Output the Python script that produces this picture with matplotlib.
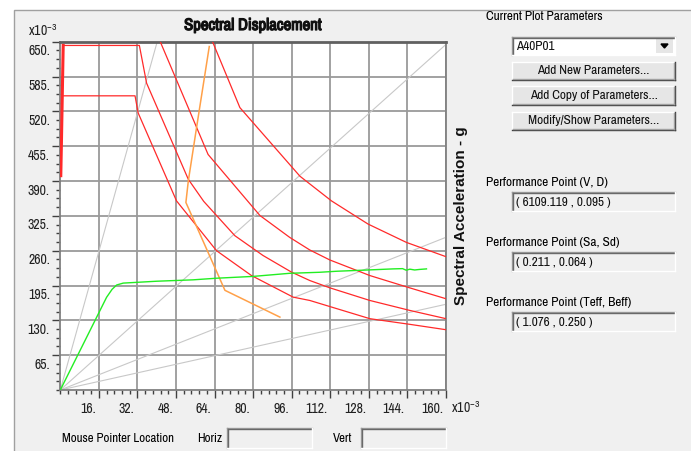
import matplotlib
matplotlib.use("Agg")
import matplotlib.pyplot as plt
from matplotlib import patheffects
from matplotlib.patches import Rectangle, Polygon
from matplotlib.lines import Line2D
from matplotlib.transforms import ScaledTranslation
from matplotlib.ticker import MultipleLocator

W, H = 691, 451

plt.rcParams['font.family'] = ['Archivo Narrow', 'Liberation Sans', 'DejaVu Sans']
plt.rcParams['mathtext.default'] = 'regular'

# ---- data (Sd and Sa both x10^-3) ----
# capacity curve
cap_sd = [0, 8, 19.2, 21.5, 23.4, 26.1, 40, 55.1, 64.8, 80, 95.2, 107.6, 114.6,
          125, 138, 142, 143.5, 145, 147, 149, 151.9]
cap_sa = [0, 72, 173, 188, 196, 199.5, 203, 205.6, 208.6, 212, 217.8, 219.7, 221.6,
          223.5, 226, 226.5, 223.5, 225.5, 224, 225, 226]

# demand spectra
dem_a_sd = [0.2, 0.5, 0.9, 1.2, 32.8, 35.8, 53.1, 59.5, 72.4, 84.1, 95.9, 103.5,
            111.8, 128.4, 144.9, 160]
dem_a_sa = [400, 470, 570, 643, 643, 572.6, 393.2, 352, 288, 251, 220, 204.3,
            190.7, 167.1, 148.6, 133.1]

dem_b_sd = [0.3, 0.8, 31.0, 32.3, 48.2, 64.8, 79.3, 96.6, 103.5, 128.4, 144.9, 160]
dem_b_sa = [400, 549, 549, 517, 353, 260, 213.6, 173.3, 167.1, 133.1, 122.6, 112.5]

dem_c_sd = [40.9, 61.3, 82.8, 95.2, 103.5, 111.8, 128.4, 144.9, 160]
dem_c_sa = [656, 439.6, 325.7, 284.7, 261.3, 242.7, 213.6, 190.7, 170.3]

dem_d_sd = [62.6, 74.5, 99.4, 112.5, 127.7, 143.6, 160]
dem_d_sa = [656, 527, 399, 352.9, 309.6, 275.4, 248.8]

# single demand (orange)
sdem_sd = [61.8, 56.6, 53.1, 52.1, 68.3, 91.1]
sdem_sa = [641, 492, 390, 350, 186, 136]

# constant period lines, end points (start at origin)
per_sd = [40.2, 160, 160, 160]
per_sa = [650, 645, 285, 160]

x_ticks = [16, 32, 48, 64, 80, 96, 112, 128, 144, 160]
y_ticks = [65, 130, 195, 260, 325, 390, 455, 520, 585, 650]

fig = plt.figure(figsize=(W / 100, H / 100), dpi=100)
fig.patch.set_facecolor('white')


def fx(x):
    return x / W


def fy(y):
    return 1 - y / H


def rect(x0, y0, x1, y1, face, edge='none', lw=1.0, z=1):
    fig.add_artist(Rectangle((fx(x0), fy(y1)), (x1 - x0) / W, (y1 - y0) / H,
                             transform=fig.transFigure, facecolor=face,
                             edgecolor=edge, lw=lw, zorder=z))


def seg(xs, ys, color, lw=1.0):
    fig.add_artist(Line2D([fx(x) for x in xs], [fy(y) for y in ys],
                          transform=fig.transFigure, color=color, lw=lw))


def button(x0, y0, x1, y1, text):
    rect(x0, y0, x1, y1, '#e6e6e6')
    seg([x0, x1], [y0, y0], 'white')
    seg([x0, x0], [y0, y1], 'white')
    seg([x0, x1], [y1, y1], '#404040')
    seg([x1, x1], [y0, y1], '#404040')
    seg([x0 + 1, x1 - 1], [y1 - 1, y1 - 1], '#a0a0a0')
    seg([x1 - 1, x1 - 1], [y0 + 1, y1 - 1], '#a0a0a0')
    fig.text(fx((x0 + x1) / 2), fy((y0 + y1) / 2), text, ha='center', va='center',
             fontsize=9.5, color='#101010')


def field(x0, y0, x1, y1, text=None, face='#f0f0f0'):
    rect(x0, y0, x1, y1, face)
    seg([x0, x1], [y0, y0], '#a0a0a0')
    seg([x0, x0], [y0, y1], '#a0a0a0')
    seg([x0 + 1, x1 - 1], [y0 + 1, y0 + 1], '#696969')
    seg([x0 + 1, x0 + 1], [y0 + 1, y1 - 1], '#696969')
    seg([x0, x1], [y1, y1], 'white')
    seg([x1, x1], [y0, y1], 'white')
    if text:
        fig.text(fx(x0 + 4), fy((y0 + y1) / 2 + 1), text, ha='left', va='center',
                 fontsize=9.5, color='#101010')


# dialog panel
rect(14, 10, 700, 470, '#f0f0f0', edge='#a0a0a0', lw=1.0, z=-10)

ax = fig.add_axes([60.3 / W, 1 - 390 / H, (446 - 60.3) / W, (390 - 41.7) / H])
ax.set_facecolor('white')
ax.set_xlim(0, 160)
ax.set_ylim(0, 650)

for xe, ye in zip(per_sd, per_sa):
    ax.plot([0, xe], [0, ye], color='#c8c8c8', lw=0.8, zorder=2)

for sd, sa in [(dem_a_sd, dem_a_sa), (dem_b_sd, dem_b_sa),
               (dem_c_sd, dem_c_sa), (dem_d_sd, dem_d_sa)]:
    ax.plot(sd, sa, color='#ff2a2a', lw=0.9, zorder=3)
ax.plot(dem_a_sd[:4], dem_a_sa[:4], color='#ff2a2a', lw=2.2, zorder=3)
ax.plot(sdem_sd, sdem_sa, color='#ffa048', lw=1.1, zorder=4)
ax.plot(cap_sd, cap_sa, color='#22ee22', lw=1.0, zorder=5)

ax.set_xticks(x_ticks)
ax.set_xticklabels([f'{v}.' for v in x_ticks])
ax.set_yticks(y_ticks)
ax.set_yticklabels([f'{v}.' for v in y_ticks])
ax.xaxis.set_minor_locator(MultipleLocator(3.2))
ax.yaxis.set_minor_locator(MultipleLocator(16.25))
ax.grid(True, which='major', color='#9a9a9a', lw=1.3)
ax.set_axisbelow(True)
ax.tick_params(which='major', length=5.5, width=1, color='#404040',
               labelsize=10, labelcolor='#202020')
ax.tick_params(axis='x', which='major', pad=3)
ax.tick_params(axis='y', which='major', pad=2)
ax.tick_params(which='minor', length=3, width=1, color='#404040')
for s in ax.spines.values():
    s.set_color('#808080')
    s.set_linewidth(1.3)
ax.spines['top'].set_color('#606060')
ax.spines['top'].set_linewidth(2)

for lbl in ax.get_xticklabels():
    lbl.set_horizontalalignment('right')
    lbl.set_transform(lbl.get_transform() + ScaledTranslation(-3 / 100, 0, fig.dpi_scale_trans))
for lbl in ax.get_yticklabels():
    lbl.set_transform(lbl.get_transform() + ScaledTranslation(0, -8 / 100, fig.dpi_scale_trans))

fig.text(fx(253), fy(25.5), 'Spectral Displacement', ha='center', va='center',
         fontsize=12, fontweight='bold', color='#101010',
         path_effects=[patheffects.withStroke(linewidth=0.9, foreground='#101010')])
fig.text(fx(28), fy(31), r'x10$^{-3}$', ha='left', va='center', fontsize=10, color='#202020')
fig.text(fx(451), fy(408), r'x10$^{-3}$', ha='left', va='center', fontsize=10, color='#202020')
fig.text(fx(461), fy(216), 'Spectral Acceleration - g', rotation=90, ha='center',
         va='center', fontsize=11, fontweight='bold', family='Liberation Sans', color='#101010')

# bottom row
fig.text(fx(62), fy(438), 'Mouse Pointer Location', ha='left', va='center', fontsize=9.3)
fig.text(fx(197), fy(438), 'Horiz', ha='left', va='center', fontsize=9.3)
field(227, 428, 312, 448)
fig.text(fx(333), fy(438), 'Vert', ha='left', va='center', fontsize=9.3)
field(361, 428, 446, 448)

# right-hand controls
fig.text(fx(486), fy(16), 'Current Plot Parameters', ha='left', va='center', fontsize=9.5)
field(512, 37, 675, 55, 'A40P01', face='white')
rect(656, 39, 673, 53, '#e6e6e6')
fig.add_artist(Polygon([[fx(661), fy(44)], [fx(668), fy(44)], [fx(664.5), fy(48)]],
                       closed=True, transform=fig.transFigure, color='black'))
button(512, 62, 675, 80, 'Add New Parameters...')
button(512, 86, 675, 105, 'Add Copy of Parameters...')
button(512, 112, 675, 130, 'Modify/Show Parameters...')

fig.text(fx(486), fy(183), 'Performance Point (V, D)', ha='left', va='center', fontsize=9.5)
field(512, 192, 675, 211, '( 6109.119 , 0.095 )')
fig.text(fx(486), fy(243), 'Performance Point (Sa, Sd)', ha='left', va='center', fontsize=9.5)
field(512, 252, 675, 271, '( 0.211 , 0.064 )')
fig.text(fx(486), fy(303), 'Performance Point (Teff, Beff)', ha='left', va='center', fontsize=9.5)
field(512, 312, 675, 331, '( 1.076 , 0.250 )')

fig.savefig('out.png', dpi=100, facecolor=fig.get_facecolor())
